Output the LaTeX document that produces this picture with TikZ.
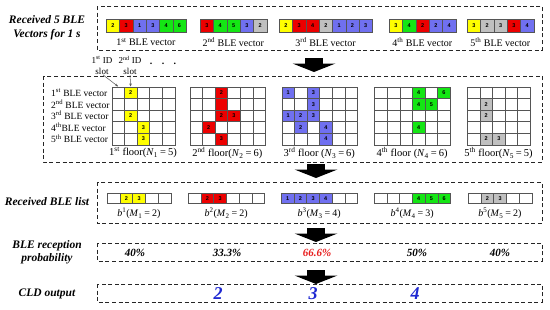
\documentclass[tikz,border=0pt]{standalone}
\usepackage{fontspec}
\setmainfont{Liberation Serif}
\newfontfamily\numfont{Liberation Sans}
\usetikzlibrary{arrows.meta}
\definecolor{cY}{RGB}{255,255,0}
\definecolor{cR}{RGB}{236,0,0}
\definecolor{cB}{RGB}{112,112,240}
\definecolor{cG}{RGB}{20,230,20}
\definecolor{cN}{RGB}{192,192,192}
\definecolor{cW}{RGB}{255,255,255}
\definecolor{txtblue}{RGB}{30,40,210}
\definecolor{txtred}{RGB}{232,30,30}
\definecolor{edge}{RGB}{85,85,85}
\begin{document}
\begin{tikzpicture}[x=1pt,y=-1pt,
  dbox/.style={draw=black!85, dash pattern=on 4pt off 2.6pt, line width=0.9pt},
  title/.style={font=\bfseries\itshape\fontsize{11.5}{13.5}\selectfont, align=center, inner sep=0pt},
  lbl/.style={font=\fontsize{10}{12}\selectfont, inner sep=0pt},
  rowlbl/.style={font=\fontsize{9.5}{11}\selectfont, inner sep=0pt, anchor=west},
  idlbl/.style={font=\fontsize{9}{11}\selectfont, inner sep=0pt, align=center},
  numf/.style={font=\numfont\bfseries\fontsize{5.5}{6}\selectfont},
  vcell/.style={draw=edge, line width=0.6pt, minimum width=13.3pt, minimum height=13pt, inner sep=0pt, anchor=north west, numf},
  gcell/.style={draw=edge, line width=0.6pt, minimum width=12.6pt, minimum height=11.6pt, inner sep=0pt, anchor=north west, numf},
  lcell/.style={draw=edge, line width=0.6pt, minimum width=12.7pt, minimum height=10.6pt, inner sep=0pt, anchor=north west, numf},
  prob/.style={font=\bfseries\itshape\fontsize{11}{12}\selectfont, inner sep=0pt},
  cld/.style={font=\bfseries\itshape\fontsize{18}{20}\selectfont, text=txtblue, inner sep=0pt},
  idarrow/.style={draw=edge, line width=0.5pt, -{Stealth[length=3pt,width=2.5pt]}},
  barrow/.pic={\fill[black] (-9,0) rectangle (9,5.5); \fill[black] (-21.5,5.5) -- (21.5,5.5) -- (0,14) -- cycle;}
]
\useasboundingbox (0,0) rectangle (550,309);
\fill[white] (0,0) rectangle (550,309);

% ---------- dashed frames ----------
\draw[dbox] (97,6) rectangle (542,50);
\draw[dbox] (43,76) rectangle (542,162);
\draw[dbox] (97,182) rectangle (542,223);
\draw[dbox] (97,243) rectangle (542,261);
\draw[dbox] (97,284) rectangle (542,302);

% ---------- row titles ----------
\node[title] (t1) at (47,27.5) {Received 5 BLE\\Vectors for 1 s};
\node[title] (t3) at (47,202) {Received BLE list};
\node[title] (t4) at (47,252) {BLE reception\\probability};
\node[title] (t5) at (47,294) {CLD output};

% ---------- block arrows ----------
\pic at (314,58) {barrow};
\pic at (316,164) {barrow};
\pic at (316,228) {barrow};
\pic at (316,270) {barrow};

% ---------- received vectors ----------
\foreach \x/\cells/\ord/\cx [count=\k] in {
  106/{cY/2,cR/3,cB/1,cB/3,cG/4,cG/6}/st/145.9,
  200/{cR/3,cG/4,cG/5,cB/3,cN/2}/nd/233.3,
  279/{cY/2,cR/3,cR/4,cN/2,cB/1,cB/2,cB/3}/rd/325.6,
  389/{cY/3,cG/4,cR/2,cB/2,cB/4}/th/422.3,
  467/{cY/3,cN/2,cN/3,cR/3,cB/4}/th/500.3}{
  \foreach \c/\t [count=\i from 0] in \cells {
    \node[vcell, fill=\c] (v\k-\i) at ({\x+13.3*\i},19) {\t};
  }
  \node[lbl] (vl\k) at (\cx,42) {\k\textsuperscript{\ord} BLE vector};
}

% ---------- ID slot labels ----------
\node[idlbl] (id1) at (102,65.5) {1\textsuperscript{st} ID\\slot};
\node[idlbl] (id2) at (130,65.5) {2\textsuperscript{nd} ID\\slot};
\node[font=\bfseries\fontsize{10}{12}\selectfont, inner sep=0pt] (dots) at (163,64) {.\hspace{9.5pt}.\hspace{9.5pt}.};

% ---------- row labels ----------
\node[rowlbl] (r1) at (51,92.3) {1\textsuperscript{st} BLE vector};
\node[rowlbl] (r2) at (51,103.9) {2\textsuperscript{nd} BLE vector};
\node[rowlbl] (r3) at (51,115.5) {3\textsuperscript{rd} BLE vector};
\node[rowlbl] (r4) at (51,127.1) {4\textsuperscript{th}BLE vector};
\node[rowlbl] (r5) at (51,138.7) {5\textsuperscript{th} BLE vector};

% ---------- floor grids ----------
\foreach \x/\n/\cells/\cx/\flab [count=\k] in {
  111.5/5/{1/2/cY/2,3/2/cY/2,4/3/cY/3,5/3/cY/3}/143/{1\textsuperscript{st} floor(\textit{N}\textsubscript{1}\hspace{2pt}=\hspace{2pt}5)},
  189.5/6/{1/3/cR/2,2/3/cR/{},3/3/cR/2,3/4/cR/3,4/2/cR/2,5/3/cR/3}/227.3/{2\textsuperscript{nd} floor(\textit{N}\textsubscript{2}\hspace{2pt}=\hspace{2pt}6)},
  281.5/6/{1/1/cB/1,1/3/cB/3,2/3/cB/3,3/1/cB/1,3/2/cB/2,3/3/cB/3,4/2/cB/2,4/4/cB/4,5/4/cB/4}/319.3/{3\textsuperscript{rd} floor (\textit{N}\textsubscript{3}\hspace{2pt}=\hspace{2pt}6)},
  374.3/6/{1/4/cG/4,1/6/cG/6,2/4/cG/4,2/5/cG/5,4/4/cG/4}/412.1/{4\textsuperscript{th} floor (\textit{N}\textsubscript{4}\hspace{2pt}=\hspace{2pt}6)},
  467/5/{2/2/cN/2,3/2/cN/2,5/2/cN/2,5/3/cN/3}/498.5/{5\textsuperscript{th} floor(\textit{N}\textsubscript{5}\hspace{2pt}=\hspace{2pt}5)}}{
  \foreach \r in {1,...,5}{
    \foreach \c in {1,...,\n}{
      \node[gcell] (g\k-\r-\c) at ({\x+12.6*(\c-1)},{86.5+11.6*(\r-1)}) {};
    }
  }
  \foreach \r/\c/\col/\t in \cells {
    \node[gcell, fill=\col] (g\k-\r-\c) at ({\x+12.6*(\c-1)},{86.5+11.6*(\r-1)}) {\t};
  }
  \node[lbl, font=\fontsize{10.5}{12}\selectfont] (fl\k) at (\cx,153) {\flab};
}

% ---------- ID slot arrows ----------
\draw[idarrow] ([xshift=1pt]id1.south) -- (g1-1-1.north);
\draw[idarrow] (id2.south) -- (g1-1-2.north);

% ---------- received BLE lists ----------
\foreach \x/\cells/\m/\cx [count=\k] in {
  107/{cW/,cY/2,cY/3,cW/,cW/}/2/138.8,
  188/{cW/,cR/2,cR/3,cW/,cW/,cW/}/2/226.1,
  281/{cB/1,cB/2,cB/3,cB/4,cW/,cW/}/4/319.1,
  374/{cW/,cW/,cW/,cG/4,cG/5,cG/6}/3/412.1,
  468/{cW/,cN/2,cN/3,cW/,cW/}/2/499.8}{
  \foreach \c/\t [count=\i from 0] in \cells {
    \node[lcell, fill=\c] (l\k-\i) at ({\x+12.7*\i},192.7) {\t};
  }
  \node[lbl] (ll\k) at (\cx,213.5) {\textit{b}\textsuperscript{\k}(\textit{M}\textsubscript{\k}\hspace{2pt}=\hspace{2pt}\m)};
}

% ---------- reception probability ----------
\node[prob] (p1) at (135,253) {40\%};
\node[prob] (p2) at (227,253) {33.3\%};
\node[prob, text=txtred] (p3) at (317,253) {66.6\%};
\node[prob] (p4) at (417,253) {50\%};
\node[prob] (p5) at (500,253) {40\%};

% ---------- CLD output ----------
\node[cld] (c1) at (218,294) {2};
\node[cld] (c2) at (313,294) {3};
\node[cld] (c3) at (415,294) {4};
\end{tikzpicture}
\end{document}
